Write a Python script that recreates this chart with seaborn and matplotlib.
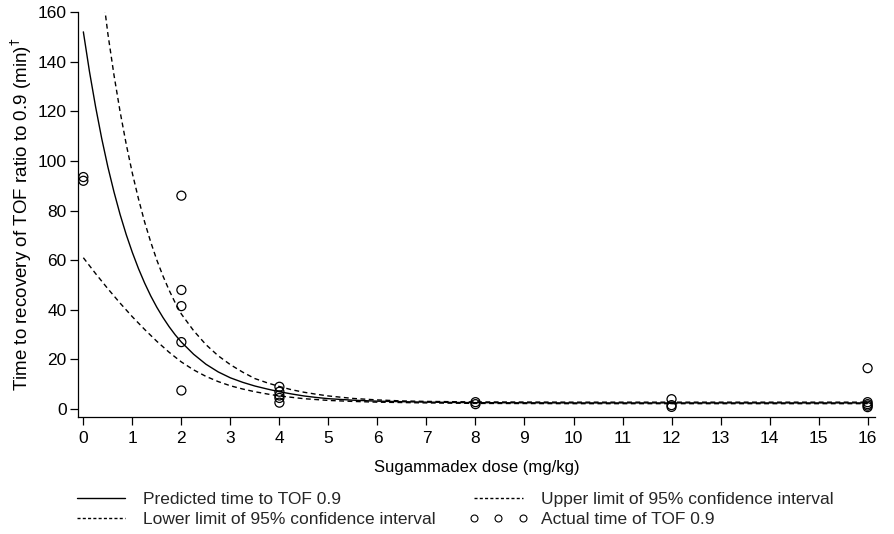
import numpy as np
import pandas as pd
import matplotlib
matplotlib.use("Agg")
import matplotlib.pyplot as plt
import seaborn as sns
from matplotlib.lines import Line2D

# ---- data ----
dose_obs = [0, 0, 2, 2, 2, 2, 2, 4, 4, 4, 4, 4, 8, 8, 12, 12, 12, 16, 16, 16, 16, 16]
time_obs = [93.5, 92.0, 86.0, 48.0, 41.5, 27.0, 7.5, 9.0, 7.0, 5.5, 4.5, 2.6,
            2.8, 2.0, 4.0, 1.6, 0.9, 16.5, 2.8, 2.0, 1.4, 0.8]

dose_pred = [0, 0.125, 0.25, 0.375, 0.5, 0.625, 0.75, 0.875, 1.0, 1.125, 1.25, 1.375,
             1.5, 1.625, 1.75, 1.875, 2.0, 2.25, 2.5, 2.75, 3.0, 3.25, 3.5, 3.75,
             4.0, 4.25, 4.5, 4.75, 5.0, 5.5, 6.0, 6.5, 7.0, 8.0, 10.0, 12.0, 14.0, 16.0]
time_pred = [152.0, 136.0, 121.8, 109.0, 97.6, 87.5, 78.4, 70.3, 63.1, 56.6, 50.8, 45.6,
             41.0, 36.9, 33.2, 29.9, 27.0, 22.1, 18.1, 15.0, 12.6, 10.8, 9.3, 8.1,
             7.0, 6.1, 5.3, 4.7, 4.2, 3.6, 3.2, 3.0, 2.8, 2.6, 2.5, 2.5, 2.5, 2.5]

dose_upper = [0.4, 0.5, 0.625, 0.75, 0.875, 1.0, 1.125, 1.25, 1.375, 1.5, 1.625, 1.75,
              1.875, 2.0, 2.25, 2.5, 2.75, 3.0, 3.25, 3.5, 3.75, 4.0, 4.25, 4.5, 4.75,
              5.0, 5.5, 6.0, 6.5, 7.0, 8.0, 10.0, 12.0, 14.0, 16.0]
time_upper = [167.0, 151.3, 134.6, 119.8, 106.7, 95.0, 84.7, 75.4, 67.3, 60.0, 53.6, 47.9,
              42.8, 38.3, 31.6, 26.0, 21.5, 17.9, 14.9, 12.3, 10.6, 9.1, 7.8, 6.8, 6.0,
              5.3, 4.3, 3.7, 3.3, 3.1, 2.9, 2.8, 2.8, 2.8, 2.8]

dose_lower = [0, 0.25, 0.5, 0.75, 1.0, 1.25, 1.5, 1.75, 2.0, 2.25, 2.5, 2.75, 3.0,
              3.25, 3.5, 3.75, 4.0, 4.5, 5.0, 5.5, 6.0, 7.0, 8.0, 10.0, 12.0, 14.0, 16.0]
time_lower = [61.0, 54.6, 48.5, 42.7, 37.2, 32.1, 27.3, 22.9, 19.0, 15.8, 13.2, 11.1, 9.4,
              8.1, 7.0, 6.1, 5.3, 4.2, 3.5, 3.1, 2.8, 2.5, 2.3, 2.2, 2.2, 2.2, 2.2]

x_ticks = list(range(0, 17))
y_ticks = [0, 20, 40, 60, 80, 100, 120, 140, 160]

lab_pred = "Predicted time to TOF 0.9"
lab_lower = "Lower limit of 95% confidence interval"
lab_upper = "Upper limit of 95% confidence interval"
lab_obs = "Actual time of TOF 0.9"

# ---- plot ----
sns.set_theme(style="ticks")
plt.rcParams["font.family"] = ["Liberation Sans", "DejaVu Sans"]
plt.rcParams["font.size"] = 12.5

fig = plt.figure(figsize=(8.94, 5.34), dpi=100)
ax = fig.add_axes([0.0872, 0.219, 0.8915, 0.7585])

df_pred = pd.DataFrame({"dose": dose_pred, "time": time_pred})
df_up = pd.DataFrame({"dose": dose_upper, "time": time_upper})
df_lo = pd.DataFrame({"dose": dose_lower, "time": time_lower})
df_obs = pd.DataFrame({"dose": dose_obs, "time": time_obs})

dash = (3.5, 2.5)
sns.lineplot(data=df_pred, x="dose", y="time", ax=ax, color="black", lw=1.0,
             estimator=None, sort=False)
sns.lineplot(data=df_up, x="dose", y="time", ax=ax, color="black", lw=1.0,
             estimator=None, sort=False, dashes=False, linestyle=(0, dash))
sns.lineplot(data=df_lo, x="dose", y="time", ax=ax, color="black", lw=1.0,
             estimator=None, sort=False, dashes=False, linestyle=(0, dash))
sns.scatterplot(data=df_obs, x="dose", y="time", ax=ax, marker="o", s=42,
                facecolor="none", edgecolor="black", linewidth=0.9, zorder=5)

ax.set_xlim(-0.11, 16.15)
ax.set_ylim(-3.2, 160)
ax.set_xticks(x_ticks)
ax.set_yticks(y_ticks)
ax.tick_params(axis="both", direction="out", length=6, width=0.9, color="black",
               labelsize=12.5, labelcolor="black", pad=2)
ax.tick_params(axis="x", pad=4)
for s in ["top", "right"]:
    ax.spines[s].set_visible(False)
for s in ["left", "bottom"]:
    ax.spines[s].set_color("black")
    ax.spines[s].set_linewidth(0.9)

ax.set_xlabel("Sugammadex dose (mg/kg)", fontsize=12, labelpad=10, color="black")
ax.set_ylabel("Time to recovery of TOF ratio to 0.9 (min)$^{\u2020}$", fontsize=13.5,
              labelpad=3, color="black")

handles = [
    Line2D([], [], color="black", lw=1.0),
    Line2D([], [], color="black", lw=1.0, linestyle=(0, (2.2, 1.6))),
    Line2D([], [], color="black", lw=1.0, linestyle=(0, (2.2, 1.6))),
    Line2D([], [], color="none", marker="o", markersize=5, markerfacecolor="none",
           markeredgecolor="black", markeredgewidth=0.8, linestyle="none"),
]
labels = [lab_pred, lab_lower, lab_upper, lab_obs]
fig.legend(handles, labels, ncol=2, loc="lower left", bbox_to_anchor=(0.072, 0.0),
           frameon=False, fontsize=12.5, handlelength=3.4, handletextpad=0.75,
           columnspacing=1.9, labelspacing=0.3, numpoints=3, borderaxespad=0.0)

fig.savefig("out.png", dpi=100, facecolor="white")
